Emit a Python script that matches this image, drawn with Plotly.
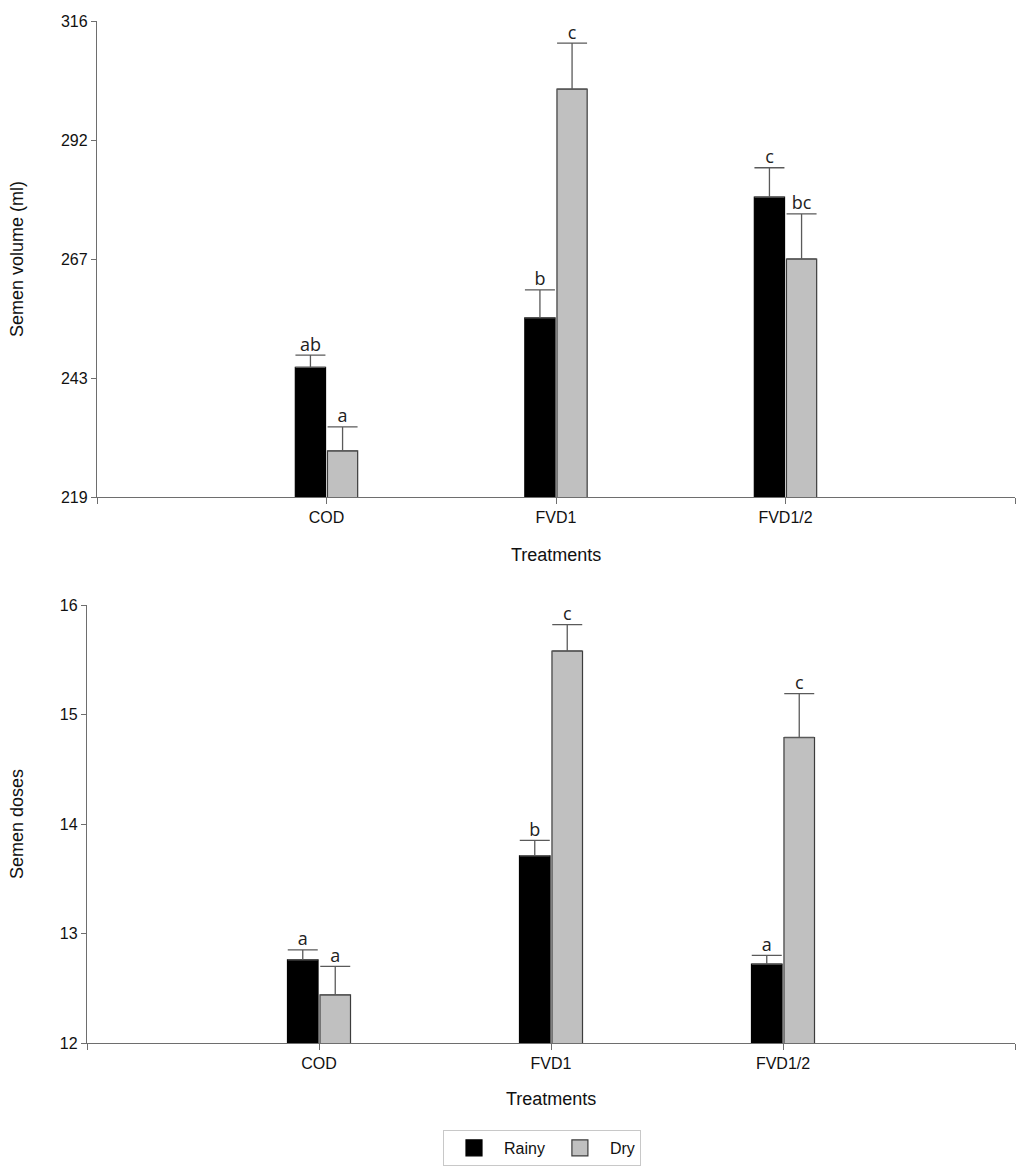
import plotly.graph_objects as go

# -----------------------------
# data
# -----------------------------
treatments = ["COD", "FVD1", "FVD1/2"]

vol_rainy = [245.4, 255.5, 280.1]
vol_rainy_se = [2.5, 5.7, 6.0]
vol_dry = [228.4, 302.1, 267.5]
vol_dry_se = [4.9, 9.4, 9.2]
vol_rainy_lbl = ["ab", "b", "c"]
vol_dry_lbl = ["a", "c", "bc"]

dose_rainy = [12.76, 13.71, 12.72]
dose_rainy_se = [0.09, 0.14, 0.08]
dose_dry = [12.44, 15.58, 14.79]
dose_dry_se = [0.26, 0.24, 0.40]
dose_rainy_lbl = ["a", "b", "a"]
dose_dry_lbl = ["a", "c", "c"]

vol_ticks = [219, 243.25, 267.5, 291.75, 316]
vol_ticktext = ["219", "243", "267", "292", "316"]
dose_ticks = [12, 13, 14, 15, 16]

# -----------------------------
# styling
# -----------------------------
W, H = 1021, 1171
BARGAP = 0.72
AXIS_GREY = "#6e6e6e"
ERR_GREY = "#5a5a5a"
TICK_FONT = dict(family="Liberation Sans, Arial", size=16, color="#111")
LETTER_FONT = dict(family="Open Sans", size=18, color="#222")
TITLE_FONT = dict(family="Liberation Sans, Arial", size=18, color="#111")

x_idx = list(range(len(treatments)))
half = (1 - BARGAP) / 4  # centre of each bar in a two-bar group


def add_panel(fig, xa, ya, rainy, rainy_se, dry, dry_se, rainy_lbl, dry_lbl):
    for vals, se, color, line, name in [
        (rainy, rainy_se, "black", "black", "Rainy"),
        (dry, dry_se, "#c0c0c0", "#3c3c3c", "Dry"),
    ]:
        fig.add_trace(go.Bar(
            x=x_idx, y=vals, name=name, showlegend=False,
            marker=dict(color=color, line=dict(color=line, width=1.2)),
            error_y=dict(type="data", array=se, arrayminus=[0] * len(se),
                         symmetric=False, color=ERR_GREY, thickness=1.3, width=15),
            xaxis=xa, yaxis=ya,
        ))
    # significance letters above the caps
    for shift, vals, se, lbl in [(-half, rainy, rainy_se, rainy_lbl),
                                 (half, dry, dry_se, dry_lbl)]:
        fig.add_trace(go.Scatter(
            x=[i + shift for i in x_idx],
            y=[v + e for v, e in zip(vals, se)],
            text=lbl, mode="text", textposition="top center",
            textfont=LETTER_FONT, cliponaxis=False, showlegend=False,
            hoverinfo="skip", xaxis=xa, yaxis=ya,
        ))


fig = go.Figure()
add_panel(fig, "x", "y", vol_rainy, vol_rainy_se, vol_dry, vol_dry_se,
          vol_rainy_lbl, vol_dry_lbl)
add_panel(fig, "x2", "y2", dose_rainy, dose_rainy_se, dose_dry, dose_dry_se,
          dose_rainy_lbl, dose_dry_lbl)

# legend entries (square swatches)
for name, color, line in [("Rainy", "black", "black"), ("Dry", "#c0c0c0", "#3c3c3c")]:
    fig.add_trace(go.Scatter(
        x=[None], y=[None], mode="markers", name=name,
        marker=dict(symbol="square", size=16, color=color,
                    line=dict(color=line, width=1.2)),
        xaxis="x2", yaxis="y2",
    ))

xaxis_common = dict(
    range=[-1, 3], tickvals=[-1, 0, 1, 2, 3],
    ticktext=["", "COD", "FVD1", "FVD1/2", ""],
    showline=True, linecolor=AXIS_GREY, linewidth=1.3,
    ticks="outside", ticklen=6, tickcolor=AXIS_GREY, tickwidth=1.2,
    showgrid=False, zeroline=False, tickfont=TICK_FONT, automargin=False,
)
yaxis_common = dict(
    showline=True, linecolor=AXIS_GREY, linewidth=1.3,
    ticks="outside", ticklen=5, tickcolor=AXIS_GREY, tickwidth=1.2,
    showgrid=False, zeroline=False, tickfont=TICK_FONT, automargin=False,
)


def title(text, x, y, angle=0):
    return dict(text=text, textangle=angle, x=x / W, y=1 - y / H,
                xanchor="center", yanchor="middle",
                xref="paper", yref="paper", showarrow=False, font=TITLE_FONT)


fig.update_layout(
    width=W, height=H,
    margin=dict(l=0, r=0, t=0, b=0, autoexpand=False),
    paper_bgcolor="white", plot_bgcolor="white",
    barmode="group", bargap=BARGAP, bargroupgap=0.06,
    xaxis=dict(domain=[97 / W, 1015 / W], anchor="y", **xaxis_common),
    yaxis=dict(domain=[1 - 497 / H, 1 - 21 / H], anchor="x",
               range=[219, 316], tickvals=vol_ticks, ticktext=vol_ticktext,
               **yaxis_common),
    xaxis2=dict(domain=[87 / W, 1015 / W], anchor="y2", **xaxis_common),
    yaxis2=dict(domain=[1 - 1043 / H, 1 - 605 / H], anchor="x2",
                range=[12, 16], tickvals=dose_ticks, **yaxis_common),
    legend=dict(
        orientation="h", x=542 / W, xanchor="center", y=1 - 1130 / H, yanchor="top",
        bordercolor="#c8c8c8", borderwidth=1, bgcolor="white",
        font=dict(family="Liberation Sans, Arial", size=16, color="#111"),
        itemwidth=50,
    ),
    annotations=[
        title("Semen volume (ml)", 17, 259, -90),
        title("Treatments", 556, 555),
        title("Semen doses", 17, 824, -90),
        title("Treatments", 551, 1099),
    ],
)

fig.write_html("out.html", config={"displayModeBar": False},
               post_script="document.body.style.margin='0';")
